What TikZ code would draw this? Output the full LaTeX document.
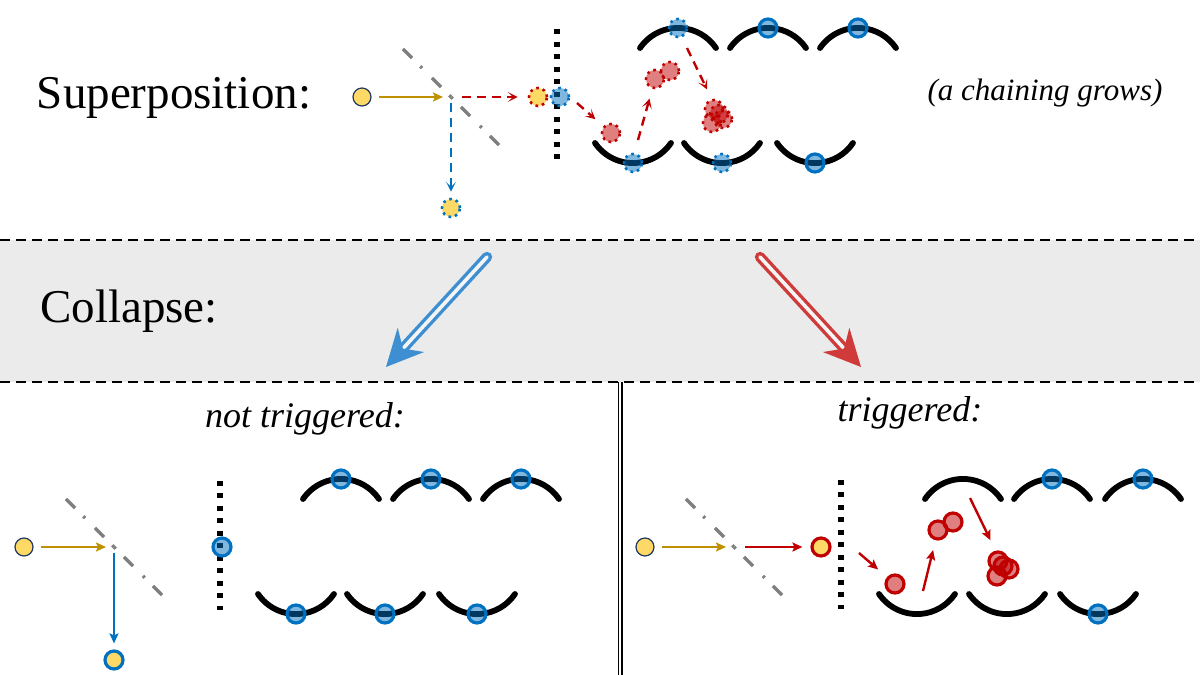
\documentclass[tikz,border=0pt]{standalone}
\usepackage{fontspec}
\setmainfont{Liberation Serif}
\usepackage{xcolor}
\usetikzlibrary{calc, arrows.meta}

\definecolor{goldbeam}{HTML}{BF9000}
\definecolor{ionblue}{HTML}{0070C0}
\definecolor{hitred}{HTML}{C00000}
\definecolor{photonfill}{HTML}{FFD966}
\definecolor{photonrim}{HTML}{203864}
\definecolor{bandgray}{HTML}{EBEBEB}
\definecolor{splitgray}{HTML}{7F7F7F}
\definecolor{nobranch}{HTML}{3D8FD1}
\definecolor{yesbranch}{HTML}{CF3A3A}

\tikzset{
  sepline/.style={line width=1pt, dash pattern=on 5pt off 3pt},
  wall/.style={line width=2.6pt, dash pattern=on 2.6pt off 3.65pt},
  splitter/.style={splitgray, line width=1.6pt, dash pattern=on 1.2pt off 5.8pt on 6.5pt off 7pt},
  wire/.style={line width=2.9pt, line cap=round},
  photon/.style={circle, inner sep=0pt, minimum size=9pt, fill=photonfill, draw=photonrim, line width=0.6pt},
  ion/.style={circle, inner sep=0pt, minimum size=9pt, draw=ionblue, fill=ionblue, fill opacity=0.5, line width=1.6pt},
  bead/.style={circle, inner sep=0pt, minimum size=9pt, draw=hitred, fill=hitred, fill opacity=0.5, line width=1.6pt},
  fuzzy/.style={line width=1.3pt, dash pattern=on 1.3pt off 2pt},
  ray/.style={-{Stealth[length=5pt, width=4.5pt, inset=1pt]}, line width=1.2pt},
  maybe/.style={-{Stealth[length=5pt, width=5pt, inset=2.7pt]}, line width=1.2pt, dash pattern=on 4.5pt off 3pt},
  hollow/.style={line width=1.7pt, double=white!50!bandgray, double distance=1.8pt, line cap=round},
  heading/.style={font=\fontsize{23.5}{28}\selectfont, anchor=base},
  caption/.style={font=\itshape\fontsize{18}{22}\selectfont, anchor=base},
}

\begin{document}
\begin{tikzpicture}[x=0.5pt, y=-0.5pt]
    \useasboundingbox (0,0) rectangle (1200,675);

    % 1. Bands and borders
    \fill[bandgray] (0,240) rectangle (1200,382);
    \draw[sepline] (0,240) -- (1200,240);
    \draw[sepline] (0,382) -- (1200,382);
    \draw[double, double distance=1.3pt, line width=0.6pt] (620,382) -- (620,676);

    % 2. Texts
    \node[heading] (supTxt) at (174,108) {Superposition:};
    \node[heading] (colTxt) at (129,322) {Collapse:};
    \node[caption] (notTxt) at (305,427) {not triggered:};
    \node[caption] (yesTxt) at (910,421) {triggered:};
    \node[caption, font=\itshape\fontsize{15.5}{19}\selectfont] (growTxt) at (1045,100) {(a chaining grows)};

    % 3. Superposition: photon, splitter, both branches
    \coordinate (bs1) at (451,97);
    \draw[splitter] (bs1) -- (402,48);
    \draw[splitter] (bs1) -- (500,146);
    \node[photon] (p1) at (362,97) {};
    \node[photon, draw=hitred, fuzzy] (p1r) at (538,97) {};
    \node[photon, draw=ionblue, fuzzy] (p1b) at (451,208) {};
    \draw[ray, goldbeam, shorten <=3.5pt, shorten >=4pt] (p1) -- (bs1);
    \draw[maybe, hitred, shorten <=5.5pt, shorten >=5pt] (bs1) -- (p1r);
    \draw[maybe, ionblue, shorten <=3pt, shorten >=3pt] (bs1) -- (p1b);

    \draw[wall] (557,29) -- (557,160);
    \foreach \t in {678,768,858}
        \draw[wire] (\t-38,48) arc[start angle=145.7, end angle=34.3, radius=23pt];
    \foreach \b in {633,722,815}
        \draw[wire] (\b-38,143) arc[start angle=214.3, end angle=325.7, radius=23pt];
    \node[ion, fuzzy] (w1) at (560,97) {};
    \node[ion, fuzzy] (u1) at (678,28) {};
    \node[ion] (u2) at (768,28) {};
    \node[ion] (u3) at (858,28) {};
    \node[ion, fuzzy] (d1) at (633,163) {};
    \node[ion, fuzzy] (d2) at (722,163) {};
    \node[ion] (d3) at (815,163) {};

    \node[bead, fuzzy] (r1) at (611,133) {};
    \node[bead, fuzzy] (r2) at (655,79) {};
    \node[bead, fuzzy] (r3) at (670,71) {};
    \node[bead, fuzzy] (r4) at (714,109) {};
    \node[bead, fuzzy] (r5) at (723,119) {};
    \node[bead, fuzzy] (r6) at (712,123) {};
    \node[bead, fuzzy] (r7) at (719,114) {};
    \coordinate (hop1) at (577,103);
    \coordinate (hop2) at (638,140);
    \coordinate (hop3) at (687,48);
    \draw[maybe, hitred, shorten >=5.3pt] (hop1) -- (r1);
    \draw[maybe, hitred, shorten >=5pt] (hop2) -- (r2);
    \draw[maybe, hitred, shorten >=8.5pt] (hop3) -- (r7);

    % 4. Collapse arrows
    \coordinate (tailL) at (487,257);
    \coordinate (tipL) at (386,367);
    \coordinate (tailR) at (760,257);
    \coordinate (tipR) at (861,367);
    \draw[hollow, draw=nobranch] (tailL) -- ($(tipL)!10pt!(tailL)$);
    \fill[nobranch] (tipL) -- ($(tipL)!20.5pt!26:(tailL)$) -- ($(tipL)!12.5pt!(tailL)$)
        -- ($(tipL)!20.5pt!-26:(tailL)$) -- cycle;
    \draw[hollow, draw=yesbranch] (tailR) -- ($(tipR)!10pt!(tailR)$);
    \fill[yesbranch] (tipR) -- ($(tipR)!20.5pt!26:(tailR)$) -- ($(tipR)!12.5pt!(tailR)$)
        -- ($(tipR)!20.5pt!-26:(tailR)$) -- cycle;

    % 5. Not triggered
    \coordinate (bs2) at (114,547);
    \draw[splitter] (bs2) -- (65,498);
    \draw[splitter] (bs2) -- (163,596);
    \node[photon] (q1) at (24,547) {};
    \node[photon, draw=ionblue, line width=1.6pt] (q2) at (114,660) {};
    \draw[ray, goldbeam, shorten <=3.5pt, shorten >=4pt] (q1) -- (bs2);
    \draw[ray, ionblue, shorten <=3pt, shorten >=3pt] (bs2) -- (q2);

    \draw[wall] (220,480.5) -- (220,610);
    \foreach \t in {341,431,521}
        \draw[wire] (\t-38,499) arc[start angle=145.7, end angle=34.3, radius=23pt];
    \foreach \b in {296,385,477}
        \draw[wire] (\b-38,594) arc[start angle=214.3, end angle=325.7, radius=23pt];
    \node[ion] (v0) at (222,547) {};
    \node[ion] (v1) at (341,479) {};
    \node[ion] (v2) at (431,479) {};
    \node[ion] (v3) at (521,479) {};
    \node[ion] (v4) at (296,614) {};
    \node[ion] (v5) at (385,614) {};
    \node[ion] (v6) at (477,614) {};

    % 6. Triggered
    \coordinate (bs3) at (734,547);
    \draw[splitter] (bs3) -- (685,498);
    \draw[splitter] (bs3) -- (783,596);
    \node[photon] (s1) at (645,547) {};
    \node[photon, draw=hitred, line width=1.6pt] (s2) at (821,547) {};
    \draw[ray, goldbeam, shorten <=3.5pt, shorten >=4pt] (s1) -- (bs3);
    \draw[ray, hitred, shorten <=5.5pt, shorten >=4pt] (bs3) -- (s2);

    \draw[wall] (841,479.5) -- (841,609);
    \foreach \t in {963,1052,1143}
        \draw[wire] (\t-38,499) arc[start angle=145.7, end angle=34.3, radius=23pt];
    \foreach \b in {917,1007,1098}
        \draw[wire] (\b-38,594) arc[start angle=214.3, end angle=325.7, radius=23pt];
    \node[ion] (t2) at (1052,479) {};
    \node[ion] (t3) at (1143,479) {};
    \node[ion] (t6) at (1098,614) {};

    \node[bead] (k1) at (895,584) {};
    \node[bead] (k2) at (938,530) {};
    \node[bead] (k3) at (953,522) {};
    \node[bead] (k4) at (998,561) {};
    \node[bead] (k5) at (1009,569) {};
    \node[bead] (k6) at (997,576) {};
    \node[bead] (k7) at (1003,566) {};
    \coordinate (kick1) at (859,553);
    \coordinate (kick2) at (923,591);
    \coordinate (kick3) at (970,498);
    \draw[ray, hitred, shorten >=5.8pt] (kick1) -- (k1);
    \draw[ray, hitred, shorten >=5pt] (kick2) -- (k2);
    \draw[ray, hitred, shorten >=9pt] (kick3) -- (k7);
\end{tikzpicture}
\end{document}
